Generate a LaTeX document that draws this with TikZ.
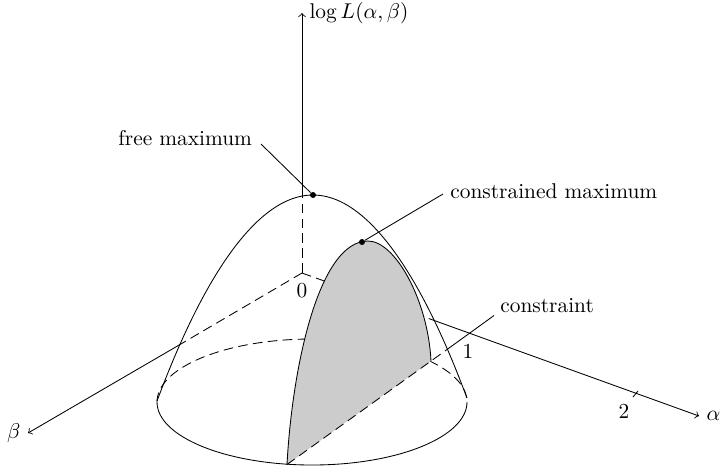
\documentclass[tikz,border=0pt]{standalone}

\tikzset{
  hid/.style={dash pattern=on 4.5pt off 2.5pt},
  maxdot/.style={circle, fill, inner sep=0pt, minimum size=2.8pt},
  lbl/.style={inner sep=0pt, anchor=base west}
}

\begin{document}
\begin{tikzpicture}[x=0.468pt,y=-0.468pt]

\useasboundingbox (0,0) rectangle (720,468);

\coordinate (O) at (302,273);
\coordinate (zin) at (302,196);
\coordinate (ztip) at (302,13);
\coordinate (ain) at (434,320.4);
\coordinate (atip) at (699,416);
\coordinate (bin) at (180,344.5);
\coordinate (btip) at (28,433);

\draw[hid] (O) -- (zin);
\draw[->] (zin) -- (ztip) node[right] {$\log L(\alpha,\beta)$};

\draw[hid] (O) -- (ain);
\draw[->] (ain) -- (atip) node[right] {$\alpha$};

\draw[hid] (O) -- (bin);
\draw[->] (bin) -- (btip) node[left] {$\beta$};

\draw (633,397) -- (638,391);

\node at (302,291) {0};
\node at (468,351) {1};
\node at (624,411) {2};

\draw[hid] (157,402) arc[start angle=180, end angle=360, x radius=155, y radius=63];
\draw (467,402) arc[start angle=0, end angle=180, x radius=155, y radius=63];

\draw (157,401) parabola bend (313,195) (467,398);

\coordinate (cb) at (287,464.5);
\coordinate (ctop) at (368,241);
\coordinate (cr) at (431,361);
\coordinate (cout) at (447,349.5);
\coordinate (cend) at (494,315.5);

\fill[gray!40] (cb) .. controls (292,370) and (318,241) .. (ctop)
  .. controls (395,241) and (428,300) .. (cr) -- cycle;
\draw (cb) .. controls (292,370) and (318,241) .. (ctop)
  .. controls (395,241) and (428,300) .. (cr);
\draw[hid] (cb) -- (cr) -- (cout);
\draw (cout) -- (cend);
\node[lbl] (conlbl) at (500,312) {constraint};

\node[maxdot] (fmax) at (313,195) {};
\coordinate (fend) at (261,144);
\draw (fmax) -- (fend);
\node[lbl] (freelbl) at (118,145) {free maximum};

\node[maxdot] (cmax) at (362,242) {};
\coordinate (cmend) at (443,194);
\draw (cmax) -- (cmend);
\node[lbl] (cmaxlbl) at (450,198) {constrained maximum};

\end{tikzpicture}
\end{document}
